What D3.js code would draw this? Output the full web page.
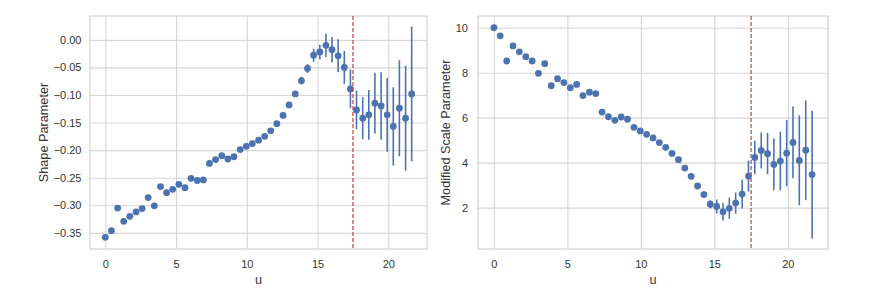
<!DOCTYPE html>
<html>
<head>
<meta charset="utf-8">
<script src="https://cdn.jsdelivr.net/npm/d3@7"></script>
<style>
  body { margin: 0; background: #fff; }
  text { font-family: "Liberation Sans", Arial, sans-serif; fill: #333; }
</style>
</head>
<body>
<div id="chart"></div>
<script>
// u values (x axis)
var u = [0, 0.43, 0.87, 1.30, 1.73, 2.17, 2.60, 3.03, 3.46, 3.90,
    4.33, 4.76, 5.20, 5.63, 6.06, 6.50, 6.93, 7.36, 7.79, 8.23,
    8.66, 9.09, 9.53, 9.96, 10.39, 10.83, 11.26, 11.69, 12.12, 12.56,
    12.99, 13.42, 13.86, 14.29, 14.72, 15.16, 15.59, 16.02, 16.45, 16.89,
    17.32, 17.75, 18.19, 18.62, 19.05, 19.49, 19.92, 20.35, 20.78, 21.22, 21.65];

var shape = [-0.358, -0.346, -0.305, -0.329, -0.320, -0.312, -0.306, -0.286, -0.301, -0.266,
    -0.277, -0.271, -0.262, -0.268, -0.251, -0.255, -0.254, -0.224, -0.217, -0.210,
    -0.216, -0.212, -0.199, -0.193, -0.188, -0.182, -0.175, -0.165, -0.152, -0.137,
    -0.118, -0.098, -0.074, -0.052, -0.028, -0.022, -0.010, -0.018, -0.029, -0.050,
    -0.089, -0.127, -0.142, -0.136, -0.115, -0.120, -0.136, -0.157, -0.124, -0.142, -0.098];

var shapeErr = [0.002, 0.002, 0.002, 0.002, 0.002, 0.002, 0.002, 0.002, 0.002, 0.002,
    0.002, 0.002, 0.002, 0.002, 0.002, 0.002, 0.002, 0.002, 0.002, 0.002,
    0.003, 0.003, 0.003, 0.003, 0.003, 0.003, 0.003, 0.003, 0.003, 0.003,
    0.004, 0.005, 0.007, 0.008, 0.012, 0.013, 0.021, 0.023, 0.030, 0.030,
    0.035, 0.035, 0.038, 0.045, 0.055, 0.061, 0.067, 0.071, 0.087, 0.095, 0.122];

var scale = [10.0, 9.64, 8.52, 9.19, 8.93, 8.71, 8.52, 7.97, 8.40, 7.42,
    7.73, 7.56, 7.33, 7.48, 6.98, 7.13, 7.07, 6.25, 6.04, 5.88,
    6.03, 5.93, 5.57, 5.41, 5.26, 5.10, 4.89, 4.68, 4.41, 4.13,
    3.76, 3.39, 2.96, 2.58, 2.15, 2.05, 1.82, 1.97, 2.20, 2.60,
    3.40, 4.23, 4.54, 4.40, 3.92, 4.07, 4.42, 4.90, 4.10, 4.55, 3.47];

var scaleErr = [0.05, 0.05, 0.05, 0.05, 0.05, 0.05, 0.05, 0.05, 0.05, 0.05,
    0.05, 0.05, 0.05, 0.05, 0.05, 0.05, 0.05, 0.05, 0.05, 0.05,
    0.05, 0.05, 0.05, 0.05, 0.05, 0.05, 0.05, 0.05, 0.05, 0.05,
    0.08, 0.10, 0.12, 0.15, 0.18, 0.31, 0.39, 0.47, 0.47, 0.64,
    0.69, 0.74, 0.80, 0.92, 1.15, 1.31, 1.47, 1.60, 2.00, 2.22, 2.84];

var threshold = 17.5;

var xTicks = [0, 5, 10, 15, 20];
var shapeTicks = [0, -0.05, -0.10, -0.15, -0.20, -0.25, -0.30, -0.35];
var scaleTicks = [2, 4, 6, 8, 10];

var blue = "#4c72b0";
var red = "#c44e52";
var gridColor = "#d5d5d5";

var svg = d3.select("#chart").append("svg")
    .attr("width", 870)
    .attr("height", 297);

// extent with matplotlib-like 5% margin
function padded(lo, hi) {
    var m = (hi - lo) * 0.05;
    return [lo - m, hi + m];
}

function drawPanel(opts) {
    var left = opts.left, right = opts.right, top = 16, bottom = 249;
    var w = right - left, h = bottom - top;
    var vals = opts.values, errs = opts.errors;

    var x = d3.scaleLinear()
        .domain(padded(d3.min(u), d3.max(u)))
        .range([left, right]);
    var y = d3.scaleLinear()
        .domain(padded(d3.min(vals, function(d, i) { return d - errs[i]; }),
                       d3.max(vals, function(d, i) { return d + errs[i]; })))
        .range([bottom, top]);

    var g = svg.append("g");

    // grid + tick labels via axes
    var xAxis = g.append("g")
        .attr("transform", "translate(0," + bottom + ")")
        .call(d3.axisBottom(x).tickValues(xTicks).tickSize(-h).tickPadding(11).tickFormat(d3.format("d")));
    var yAxis = g.append("g")
        .attr("transform", "translate(" + left + ",0)")
        .call(d3.axisLeft(y).tickValues(opts.yTicks).tickSize(-w).tickPadding(opts.yPad).tickFormat(opts.yFormat));

    [xAxis, yAxis].forEach(function(a) {
        a.select(".domain").remove();
        a.selectAll("line").attr("stroke", gridColor).attr("stroke-width", 1.1);
        a.selectAll("text").attr("font-size", 11).attr("fill", "#333")
            .attr("font-family", "Liberation Sans, Arial, sans-serif");
    });

    // frame
    g.append("rect")
        .attr("x", left).attr("y", top)
        .attr("width", w).attr("height", h)
        .attr("fill", "none")
        .attr("stroke", gridColor)
        .attr("stroke-width", 1.3);

    // error bars
    g.selectAll(".err").data(vals).enter().append("line")
        .attr("x1", function(d, i) { return x(u[i]); })
        .attr("x2", function(d, i) { return x(u[i]); })
        .attr("y1", function(d, i) { return y(d - errs[i]); })
        .attr("y2", function(d, i) { return y(d + errs[i]); })
        .attr("stroke", blue)
        .attr("stroke-width", 1.6);

    // points
    g.selectAll(".pt").data(vals).enter().append("circle")
        .attr("cx", function(d, i) { return x(u[i]); })
        .attr("cy", function(d) { return y(d); })
        .attr("r", 3.4)
        .attr("fill", blue);

    // threshold line
    g.append("line")
        .attr("x1", x(threshold)).attr("x2", x(threshold))
        .attr("y1", top).attr("y2", bottom)
        .attr("stroke", red)
        .attr("stroke-width", 1.3)
        .attr("stroke-dasharray", "4,2");

    // axis labels
    g.append("text")
        .attr("x", (left + right) / 2)
        .attr("y", 283.5)
        .attr("text-anchor", "middle")
        .attr("font-size", 12.7)
        .text("u");

    g.append("text")
        .attr("transform", "translate(" + opts.labelX + "," + (top + bottom) / 2 + ") rotate(-90)")
        .attr("text-anchor", "middle")
        .attr("font-size", 12.7)
        .text(opts.label);
}

drawPanel({
    left: 90, right: 427,
    values: shape, errors: shapeErr,
    yTicks: shapeTicks, yFormat: d3.format(".2f"), yPad: 8.5,
    label: "Shape Parameter", labelX: 48
});

drawPanel({
    left: 478, right: 828,
    values: scale, errors: scaleErr,
    yTicks: scaleTicks, yFormat: d3.format("d"), yPad: 10,
    label: "Modified Scale Parameter", labelX: 450
});
</script>
</body>
</html>
